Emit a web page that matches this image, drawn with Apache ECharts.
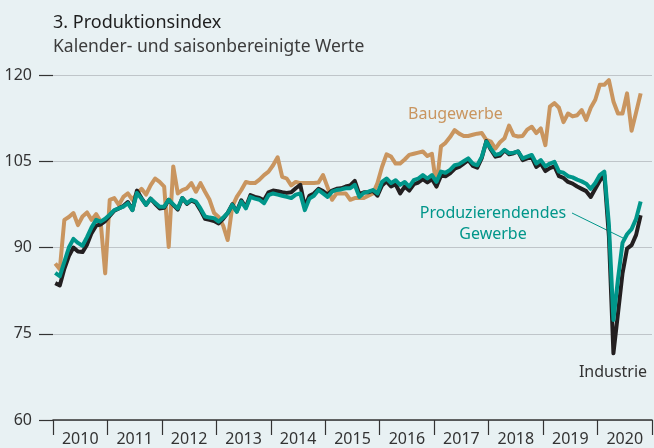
<!DOCTYPE html>
<html>
<head>
<meta charset="utf-8">
<script src="https://cdn.jsdelivr.net/npm/echarts@6/dist/echarts.min.js"></script>
<style>
  html, body { margin: 0; padding: 0; background: #e8f1f3; }
  #chart { width: 654px; height: 448px; }
</style>
</head>
<body>
<div id="chart"></div>
<script>
// Jahre der x-Achse, Monatswerte Jan 2010 bis Okt 2020
const years = ['2010', '2011', '2012', '2013', '2014', '2015', '2016', '2017', '2018', '2019', '2020'];
const yTicks = [60, 75, 90, 105, 120];

const baugewerbe = [
  87.2, 86.2, 94.8, 95.3, 96.0, 93.9, 95.4, 96.1, 94.8, 95.8, 94.5, 85.5,
  98.3, 98.6, 97.4, 98.8, 99.4, 98.3, 99.4, 100.2, 99.2, 100.8, 102.0, 101.4,
  100.6, 90.1, 104.1, 99.4, 100.0, 100.3, 101.2, 99.7, 101.2, 99.7, 98.3, 96.0,
  95.3, 93.8, 91.3, 97.1, 98.8, 100.0, 101.4, 101.2, 101.2, 101.8, 102.6, 103.2,
  104.3, 105.7, 102.3, 102.0, 100.8, 101.4, 101.2, 101.2, 101.2, 101.2, 101.3, 102.6,
  100.5, 98.3, 99.4, 99.4, 99.4, 98.3, 98.6, 98.6, 98.6, 99.0, 99.4, 101.2,
  104.0, 106.2, 105.8, 104.6, 104.6, 105.3, 106.1, 106.3, 106.5, 106.7, 105.9, 106.3,
  100.6, 107.6, 108.2, 109.2, 110.4, 109.8, 109.4, 109.4, 109.6, 109.8, 109.9, 108.7,
  108.4, 107.2, 108.3, 109.0, 111.2, 109.5, 109.3, 109.4, 110.5, 111.0, 109.9, 110.7,
  107.8, 114.5, 115.1, 114.3, 111.8, 113.3, 112.8, 113.0, 113.9, 112.2, 114.3, 115.7,
  118.3, 118.3, 119.1, 115.4, 113.3, 113.3, 116.8, 110.3, 113.5, 116.8
];

const industrie = [
  83.8, 83.4, 86.3, 88.5, 90.0, 89.3, 89.2, 90.5, 92.5, 93.8, 94.0, 94.6,
  95.5, 96.4, 96.8, 97.2, 97.9, 96.5, 99.9, 98.6, 97.4, 98.5, 97.6, 96.8,
  96.9, 98.3, 97.4, 96.6, 98.6, 97.6, 98.2, 97.8, 96.5, 95.0, 94.8, 94.6,
  94.2, 95.0, 96.0, 97.5, 96.3, 98.2, 97.0, 99.1, 98.8, 98.6, 98.2, 99.6,
  99.9, 99.8, 99.6, 99.5, 99.6, 100.3, 100.9, 97.1, 99.0, 99.4, 100.2, 99.8,
  99.2, 99.9, 100.2, 100.3, 100.6, 100.8, 101.6, 99.3, 99.6, 99.6, 99.9, 99.0,
  100.8, 101.5, 100.6, 101.0, 99.4, 100.6, 99.9, 101.0, 101.3, 101.9, 101.3, 101.9,
  100.6, 102.5, 102.4, 102.9, 103.7, 104.0, 104.6, 105.2, 104.2, 103.9, 105.6, 108.5,
  107.0, 105.8, 106.0, 106.9, 106.2, 106.4, 106.7, 105.2, 105.5, 105.7, 104.0, 104.6,
  103.3, 103.8, 104.1, 102.4, 102.1, 101.4, 101.1, 100.6, 100.2, 99.8, 98.8, 100.2,
  101.6, 102.6, 92.0, 71.6, 78.5, 85.5, 89.8, 90.4, 92.2, 95.6
];

const produzierendes = [
  85.6, 85.0, 87.5, 90.0, 91.5, 90.8, 90.3, 91.8, 93.5, 94.8, 94.5, 95.0,
  95.7, 96.5, 96.8, 97.1, 97.7, 96.5, 99.5, 98.5, 97.4, 98.5, 97.8, 97.1,
  97.1, 98.3, 97.5, 96.8, 98.6, 97.7, 98.3, 98.0, 96.8, 95.4, 95.2, 95.1,
  94.5, 95.2, 96.0, 97.4, 96.2, 98.0, 96.8, 98.8, 98.5, 98.3, 97.7, 99.1,
  99.4, 99.2, 99.0, 98.8, 98.6, 99.2, 99.4, 96.5, 98.5, 99.0, 100.0, 99.4,
  98.8, 99.7, 100.0, 100.1, 100.3, 100.3, 100.9, 98.8, 99.5, 99.7, 100.0, 99.4,
  101.4, 102.0, 101.2, 101.7, 100.9, 101.4, 100.6, 101.7, 102.0, 102.6, 102.0, 102.6,
  101.4, 103.2, 103.0, 103.5, 104.3, 104.5, 105.0, 105.5, 104.6, 104.3, 105.8, 108.4,
  107.2, 106.1, 106.3, 107.0, 106.4, 106.5, 106.7, 105.5, 105.8, 106.1, 104.6, 105.2,
  104.1, 104.6, 104.9, 103.2, 103.0, 102.4, 102.2, 101.8, 101.5, 101.1, 100.2, 101.2,
  102.6, 103.2, 94.0, 77.4, 84.5, 90.8, 92.3, 93.2, 95.0, 98.0
];

// Monatskategorien aus den Jahren
const months = [];
years.forEach(y => {
  for (let m = 1; m <= 12; m++) months.push(y + '-' + (m < 10 ? '0' + m : m));
});

const FONT = '"Noto Sans", sans-serif';
const TAN = '#c9955f';
const TEAL = '#00968a';
const DARK = '#231f20';

const chart = echarts.init(document.getElementById('chart'));

const option = {
  backgroundColor: '#e8f1f3',
  animation: false,
  title: {
    text: '3. Produktionsindex',
    subtext: 'Kalender- und saisonbereinigte Werte',
    left: 48,
    top: 9,
    itemGap: 6,
    textStyle: { fontFamily: FONT, fontSize: 18, fontWeight: 'normal', color: '#1e1e1e' },
    subtextStyle: { fontFamily: FONT, fontSize: 17.5, color: '#3c3c3c' }
  },
  grid: {
    left: 53,
    right: 2,
    top: 75,
    bottom: 28
  },
  xAxis: [
    {
      type: 'category',
      data: months,
      boundaryGap: true,
      show: false
    },
    {
      type: 'category',
      data: years,
      position: 'bottom',
      boundaryGap: true,
      axisLine: { lineStyle: { color: '#333', width: 1.5 } },
      axisTick: { show: true, length: 15, lineStyle: { color: '#333', width: 1.2 } },
      axisLabel: { fontFamily: FONT, fontSize: 16, color: '#333', margin: 11 },
      splitLine: { show: false }
    }
  ],
  yAxis: {
    type: 'value',
    min: yTicks[0],
    max: yTicks[yTicks.length - 1],
    interval: 15,
    axisLine: { show: false },
    axisTick: { show: true, length: 14, lineStyle: { color: '#333', width: 1.2 } },
    axisLabel: { fontFamily: FONT, fontSize: 16, color: '#333', margin: 21 },
    splitLine: { lineStyle: { color: '#bfc5c9', width: 1.2 } }
  },
  series: [
    {
      name: 'Baugewerbe',
      type: 'line',
      xAxisIndex: 0,
      data: baugewerbe,
      symbol: 'none',
      lineStyle: { color: TAN, width: 4, join: 'round' }
    },
    {
      name: 'Industrie',
      type: 'line',
      xAxisIndex: 0,
      data: industrie,
      symbol: 'none',
      lineStyle: { color: DARK, width: 4, join: 'round' }
    },
    {
      name: 'Produzierendendes Gewerbe',
      type: 'line',
      xAxisIndex: 0,
      data: produzierendes,
      symbol: 'none',
      lineStyle: { color: TEAL, width: 4, join: 'round' }
    }
  ],
  graphic: [
    {
      type: 'text',
      left: 408,
      top: 106,
      style: { text: 'Baugewerbe', fill: TAN, font: '16px ' + FONT }
    },
    {
      type: 'text',
      x: 493,
      y: 203,
      style: {
        text: 'Produzierendendes\nGewerbe',
        fill: TEAL,
        font: '16px ' + FONT,
        align: 'center',
        lineHeight: 21
      }
    },
    {
      type: 'line',
      shape: { x1: 572, y1: 213, x2: 623, y2: 238 },
      style: { stroke: TEAL, lineWidth: 1 }
    },
    {
      type: 'text',
      x: 613,
      y: 364,
      style: { text: 'Industrie', fill: '#333', font: '16px ' + FONT, align: 'center' }
    }
  ]
};

chart.setOption(option);
window.addEventListener('resize', () => chart.resize());
</script>
</body>
</html>
